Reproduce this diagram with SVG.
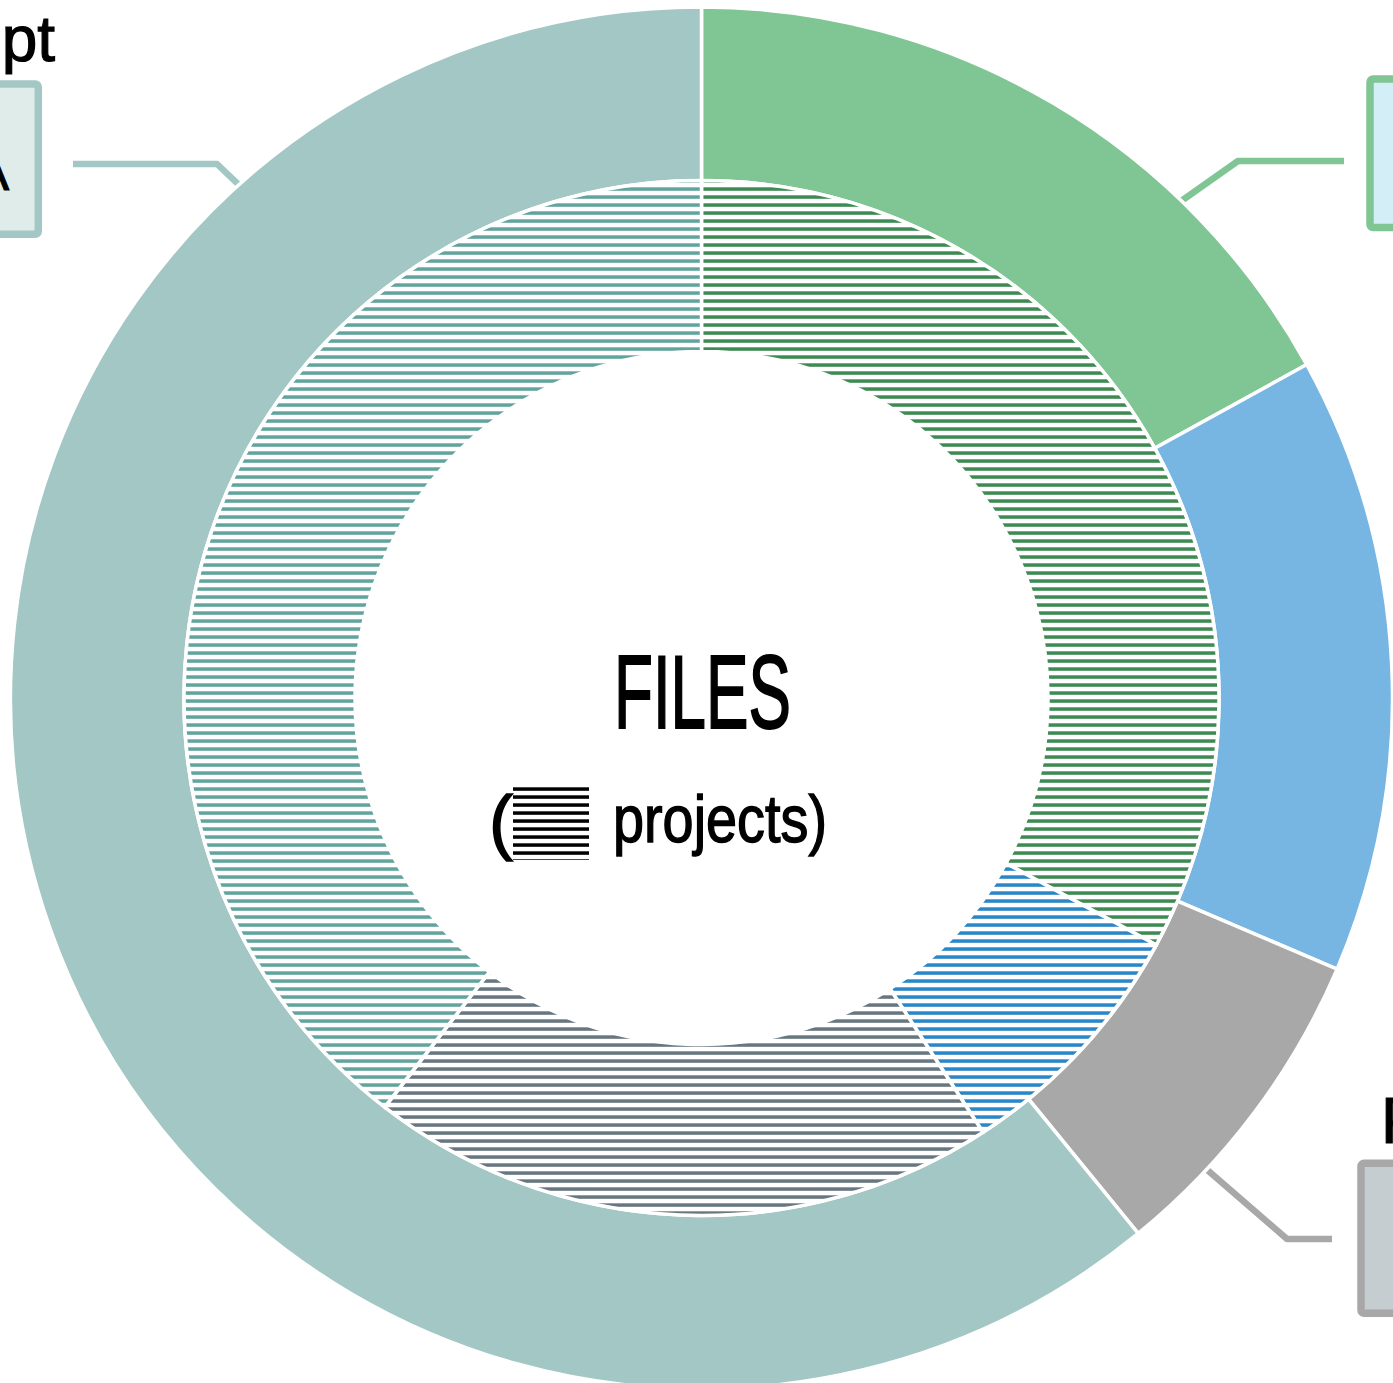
<svg xmlns="http://www.w3.org/2000/svg" width="1393" height="1383" viewBox="0 0 1393 1383">
<defs>
<pattern id="hGreen" patternUnits="userSpaceOnUse" x="0" y="0" width="8" height="8"><rect x="0" y="3.3" width="8" height="3.5" fill="#3d8a52"/></pattern>
<pattern id="hBlue" patternUnits="userSpaceOnUse" x="0" y="0" width="8" height="8"><rect x="0" y="3.3" width="8" height="3.5" fill="#2b86c7"/></pattern>
<pattern id="hGray" patternUnits="userSpaceOnUse" x="0" y="0" width="8" height="8"><rect x="0" y="3.3" width="8" height="3.5" fill="#67767f"/></pattern>
<pattern id="hTeal" patternUnits="userSpaceOnUse" x="0" y="0" width="8" height="8"><rect x="0" y="3.3" width="8" height="3.5" fill="#62a39d"/></pattern>
<pattern id="hBlack" patternUnits="userSpaceOnUse" x="0" y="0" width="8" height="8"><rect x="0" y="3.3" width="8" height="3.5" fill="#000000"/></pattern>
</defs>
<style>
.seg{stroke:#ffffff;stroke-width:3.5;stroke-linejoin:miter}
.conn{fill:none;stroke-width:6.5;stroke-linejoin:round}
.box{stroke-width:7.5}
.lbl{font-family:"Liberation Sans",Arial,sans-serif;fill:#000000;stroke:#000000;stroke-width:1.2}
.ctr{font-family:"Liberation Sans",Arial,sans-serif;fill:#000000;stroke:#000000}
</style>
<rect x="0" y="0" width="1393" height="1383" fill="#ffffff"/>

<g id="connectors">
<polyline class="conn" stroke="#a2c7c4" points="73,164 217,164 262,207"/>
<polyline class="conn" stroke="#80c594" points="1344,161 1238,161 1160,216"/>
<polyline class="conn" stroke="#a8a8a8" points="1332,1239 1287,1239 1190,1155"/>
</g>

<g id="outer-ring">
<path id="outer-green" class="seg" fill="#80c594" d="M701.5,7 A691,691 0 0 1 1306.75,364.59 L1154.78,448.31 A517.5,517.5 0 0 0 701.5,180.5 Z"/>
<path id="outer-blue" class="seg" fill="#77b5e3" d="M1306.75,364.59 A691,691 0 0 1 1337.1,969.11 L1177.51,901.04 A517.5,517.5 0 0 0 1154.78,448.31 Z"/>
<path id="outer-gray" class="seg" fill="#a8a8a8" d="M1337.1,969.11 A691,691 0 0 1 1138.23,1233.48 L1028.58,1099.03 A517.5,517.5 0 0 0 1177.51,901.04 Z"/>
<path id="outer-teal" class="seg" fill="#a2c7c4" d="M1138.23,1233.48 A691,691 0 1 1 701.5,7 L701.5,180.5 A517.5,517.5 0 1 0 1028.58,1099.03 Z"/>
</g>

<g id="inner-ring">
<path id="inner-green" class="seg" fill="url(#hGreen)" d="M701.5,180.5 A517.5,517.5 0 0 1 1156.29,944.93 L1006.01,863.34 A346.5,346.5 0 0 0 701.5,351.5 Z"/>
<path id="inner-blue" class="seg" fill="url(#hBlue)" d="M1156.29,944.93 A517.5,517.5 0 0 1 982.97,1132.25 L889.96,988.76 A346.5,346.5 0 0 0 1006.01,863.34 Z"/>
<path id="inner-gray" class="seg" fill="url(#hGray)" d="M982.97,1132.25 A517.5,517.5 0 0 1 384.68,1107.18 L489.37,971.97 A346.5,346.5 0 0 0 889.96,988.76 Z"/>
<path id="inner-teal" class="seg" fill="url(#hTeal)" d="M384.68,1107.18 A517.5,517.5 0 0 1 701.5,180.5 L701.5,351.5 A346.5,346.5 0 0 0 489.37,971.97 Z"/>
</g>

<g id="center-label">
<text class="ctr" x="614" y="728" font-size="103" stroke-width="2" textLength="177" lengthAdjust="spacingAndGlyphs">FILES</text>
<text class="ctr" x="489" y="846" font-size="72" stroke-width="1.4">(</text>
<rect x="513" y="787" width="76" height="73" fill="url(#hBlack)"/>
<text class="ctr" x="613" y="842" font-size="66" stroke-width="1.4" textLength="214" lengthAdjust="spacingAndGlyphs">projects)</text>
</g>

<g id="callout-left">
<text class="lbl" x="55" y="61" font-size="64" text-anchor="end">pt</text>
<rect class="box" x="-20" y="84" width="58.3" height="150.2" rx="3" fill="#e0ecea" stroke="#a2c7c4"/>
<text class="lbl" x="9" y="190" font-size="48" text-anchor="end">A</text>
</g>

<g id="callout-right-top">
<rect class="box" x="1370" y="79" width="60" height="148.5" rx="3" fill="#d4eef8" stroke="#80c594"/>
</g>

<g id="callout-right-bottom">
<text class="lbl" x="1381" y="1143" font-size="64">P</text>
<rect class="box" x="1361" y="1163.3" width="60" height="150" rx="3" fill="#c6cdd1" stroke="#a8a8a8"/>
</g>
</svg>
